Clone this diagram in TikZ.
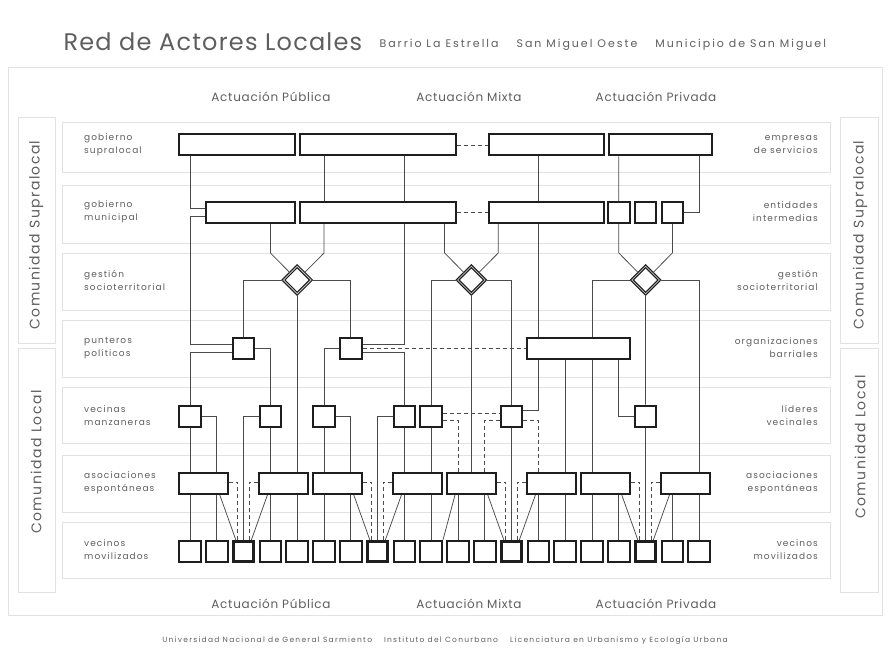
\documentclass[tikz,border=0pt]{standalone}
\usepackage{fontspec}
\setmainfont{Poppins}
\usetikzlibrary{shapes.geometric,positioning,calc}
\definecolor{ink}{HTML}{1E1E1E}
\definecolor{txt}{HTML}{5E5E5E}
\definecolor{faint}{HTML}{E2E2E2}

\begin{document}
\begin{tikzpicture}[x=1pt, y=-1pt,
  act/.style={rectangle, draw=ink, line width=2pt, fill=white, minimum height=21pt, inner sep=0pt},
  cel/.style={act, minimum width=21.5pt},
  rombo/.style={diamond, draw=ink, line width=1.2pt, double=gray!50, double distance=0.8pt, fill=white, minimum width=28pt, minimum height=28pt, inner sep=0pt},
  link/.style={draw=ink!80, line width=0.75pt},
  dlink/.style={link, dash pattern=on 4pt off 3pt},
  lbl/.style={font=\fontsize{9}{13}\selectfont\addfontfeature{LetterSpace=12}, text=txt, inner sep=0pt},
  side/.style={font=\fontsize{14}{14}\selectfont\addfontfeature{LetterSpace=10}, text=txt, rotate=90, inner sep=0pt},
  zona/.style={font=\fontsize{12}{12}\selectfont\addfontfeature{LetterSpace=6}, text=txt, inner sep=0pt},
  band/.style={draw=faint, line width=1pt}
]
  \useasboundingbox (0,0) rectangle (890,663);

  % fondo
  \draw[band] (8,68) rectangle (882,615);
  \draw[band] (18,118) rectangle (55,343);
  \draw[band] (18,348) rectangle (55,592);
  \draw[band] (840,118) rectangle (878,343);
  \draw[band] (840,348) rectangle (878,592);
  \foreach \ya/\yb in {123/172,185/243,253/310,320/377,387/443,455/512,522/578}
    \draw[band] (62,\ya) rectangle (830,\yb);

  % titulos
  \node[anchor=west, font=\fontsize{24}{24}\selectfont\addfontfeature{LetterSpace=5}, text=txt] (titulo) at (60,42) {Red de Actores Locales};
  \node[anchor=west, font=\fontsize{11}{11}\selectfont\addfontfeature{LetterSpace=18}, text=txt] (lugar) at (376,45)
    {Barrio La Estrella\hspace{18pt}San Miguel Oeste\hspace{18pt}Municipio de San Miguel};
  \node[zona] (pub1) at (271,97) {Actuación Pública};
  \node[zona] (mix1) at (469,97) {Actuación Mixta};
  \node[zona] (pri1) at (656,97) {Actuación Privada};
  \node[zona] (pub2) at (271,604) {Actuación Pública};
  \node[zona] (mix2) at (469,604) {Actuación Mixta};
  \node[zona] (pri2) at (656,604) {Actuación Privada};
  \node[font=\fontsize{7.5}{7.5}\selectfont\addfontfeature{LetterSpace=17}, text=txt] (pie) at (445,641)
    {Universidad Nacional de General Sarmiento\hspace{12pt}Instituto del Conurbano\hspace{12pt}Licenciatura en Urbanismo y Ecología Urbana};

  \node[side] (sup1) at (36,235) {Comunidad\hspace{6pt}Supralocal};
  \node[side] (loc1) at (36,462) {Comunidad\hspace{6pt}Local};
  \node[side] (sup2) at (860,235) {Comunidad\hspace{6pt}Supralocal};
  \node[side] (loc2) at (860,447) {Comunidad\hspace{6pt}Local};

  % etiquetas de fila
  \node[lbl, anchor=west, align=left] (l1) at (84,145) {gobierno\\supralocal};
  \node[lbl, anchor=west, align=left] (l2) at (84,212) {gobierno\\municipal};
  \node[lbl, anchor=west, align=left] (l3) at (84,280) {gestión\\socioterritorial};
  \node[lbl, anchor=west, align=left] (l4) at (84,348) {punteros\\políticos};
  \node[lbl, anchor=west, align=left] (l5) at (84,416) {vecinas\\manzaneras};
  \node[lbl, anchor=west, align=left] (l6) at (84,483) {asociaciones\\espontáneas};
  \node[lbl, anchor=west, align=left] (l7) at (84,550) {vecinos\\movilizados};
  \node[lbl, anchor=east, align=right] (r1) at (818,145) {empresas\\de servicios};
  \node[lbl, anchor=east, align=right] (r2) at (818,212) {entidades\\intermedias};
  \node[lbl, anchor=east, align=right] (r3) at (818,280) {gestión\\socioterritorial};
  \node[lbl, anchor=east, align=right] (r4) at (818,348) {organizaciones\\barriales};
  \node[lbl, anchor=east, align=right] (r5) at (818,416) {líderes\\vecinales};
  \node[lbl, anchor=east, align=right] (r6) at (818,483) {asociaciones\\espontáneas};
  \node[lbl, anchor=east, align=right] (r7) at (818,550) {vecinos\\movilizados};

  % actores
  \node[act, minimum width=116pt] (a1) at (237,145) {};
  \node[act, minimum width=156pt] (a2) at (378,145) {};
  \node[act, minimum width=115pt] (a3) at (546.5,145) {};
  \node[act, minimum width=103pt] (a4) at (660.5,145) {};
  \node[act, minimum width=89pt]  (b1) at (250.5,212.5) {};
  \node[act, minimum width=156pt] (b2) at (378,212.5) {};
  \node[act, minimum width=115pt] (b3) at (546.5,212.5) {};
  \node[cel] (b4a) at (618.8,212.5) {};
  \node[cel] (b4b) at (645.6,212.5) {};
  \node[cel] (b4c) at (672.4,212.5) {};
  \node[rombo] (d1) at (297.2,280) {};
  \node[rombo] (d2) at (471.4,280) {};
  \node[rombo] (d3) at (645.6,280) {};
  \node[cel] (p1) at (243.6,348.5) {};
  \node[cel] (p2) at (350.8,348.5) {};
  \node[act, minimum width=102.4pt] (o) at (578.6,348.5) {};
  \foreach \n/\a in {1/0,2/3,3/5,4/8,5/9,6/12,7/17}
    \node[cel] (v\n) at (190+26.8*\a,416) {};
  \foreach \n/\a in {1/0,2/3,3/5,4/8,5/10,6/13,7/15,8/18}
    \node[act, minimum width=48.8pt] (e\n) at (203.4+26.8*\a,483.5) {};
  \foreach \i in {0,...,19}
    \node[cel] (c\i) at (190+26.8*\i,551.5) {};
  \foreach \i in {2,7,12,17}
    \draw[ink, line width=0.8pt] ([shift={(2.6pt,-2.6pt)}]c\i.north west) rectangle ([shift={(-2.6pt,2.6pt)}]c\i.south east);

  % gobierno supralocal -> municipal
  \draw[link] (a1.south -| c0) |- ([yshift=4pt]b1.west);
  \draw[link] (a2.south -| c5) -- (b2.north -| c5);
  \draw[link] (a2.south -| c8) -- (b2.north -| c8);
  \draw[link] (a3.south -| c13) -- (b3.north -| c13);
  \draw[link] (a4.south -| c16) -- (b4a.north);
  \draw[link] (a4.south -| c19) |- (b4c.east);
  \draw[dlink] (a2.east) -- (a3.west);
  \draw[dlink] (b2.east) -- (b3.west);

  % gestion socioterritorial
  \draw[link] (b1.south -| c3) -- ++(0,29) -- (d1.north west);
  \draw[link] (b2.south -| c5) -- ++(0,29) -- (d1.north east);
  \draw[link] ([xshift=13.4pt]b2.south -| c9) -- ++(0,29) -- (d2.north west);
  \draw[link] ([xshift=13.4pt]b3.south -| c11) -- ++(0,29) -- (d2.north east);
  \draw[link] (b4a.south) -- ++(0,29) -- (d3.north west);
  \draw[link] (b4c.south) -- ++(0,29) -- (d3.north east);
  \draw[link] (d1.west) -| (p1.north);
  \draw[link] (d1.east) -| (p2.north);
  \draw[link] (d1.south) -- (d1.south |- e2.north);
  \draw[link] (d2.west) -| (v5.north);
  \draw[link] (d2.east) -| (v6.north);
  \draw[link] (d2.south) -- (d2.south |- e5.north);
  \draw[link] (d3.west) -| (o.north -| c15);
  \draw[link] (d3.east) -| (e8.north -| c19);
  \draw[link] (d3.south) -- (v7.north);

  % punteros y organizaciones
  \draw[link] ([yshift=-4pt]b1.west) -| ([yshift=4pt]p1.west -| c0) -- ([yshift=4pt]p1.west);
  \draw[link] ([yshift=-4pt]p1.west) -| (v1.north);
  \draw[link] (p1.east) -| (v2.north);
  \draw[link] (b2.south -| c8) |- ([yshift=4pt]p2.east);
  \draw[link] ([yshift=-4pt]p2.east) -| (v4.north);
  \draw[link] (p2.west) -| (v3.north);
  \draw[dlink] (p2.east) -- (o.west);
  \draw[link] (b3.south -| c13) -- (o.north -| c13);
  \draw[link] (o.south -| c13) |- ([yshift=6pt]v6.east);
  \draw[link] (o.south -| c14) -- (e6.north -| c14);
  \draw[link] (o.south -| c15) -- (e7.north -| c15);
  \draw[link] (o.south -| c16) |- (v7.west);

  % vecinas manzaneras y lideres
  \draw[link] (v1.south) -- (e1.north -| v1);
  \draw[link] (v1.east) -| (e1.north -| c1);
  \draw[link] (v2.south) -- (e2.north -| v2);
  \draw[link] (v2.west) -| (c2.north);
  \draw[link] (v3.south) -- (e3.north -| v3);
  \draw[link] (v3.east) -| (e3.north -| c6);
  \draw[link] (v4.south) -- (e4.north -| v4);
  \draw[link] (v4.west) -| (c7.north);
  \draw[link] (v5.south) -- (e4.north -| v5);
  \draw[link] (v6.south) -- (c12.north);
  \draw[link] (v7.south) -- (c17.north);
  \draw[dlink] ([yshift=3pt]v5.east) -- ([yshift=3pt]v6.west);
  \draw[dlink] ([yshift=-4pt]v5.east) -| (e5.north -| c10);
  \draw[dlink] ([yshift=-4pt]v6.west) -| (e5.north -| c11);
  \draw[dlink] ([yshift=-4pt]v6.east) -| (e6.north -| c13);

  % asociaciones -> vecinos movilizados
  \foreach \n/\a/\b in {1/0/1,2/3/4,3/5/6,4/8/9,5/10/11,6/13/14,7/15/16,8/18/19}{
    \draw[link] (e\n.south -| c\a) -- (c\a.north);
    \draw[link] (e\n.south -| c\b) -- (c\b.north);
  }
  \foreach \n/\a/\d in {1/1/2,3/6/7,5/11/12,7/16/17}{
    \draw[link] ([xshift=3pt]e\n.south -| c\a) -- ([xshift=4pt]c\d.north west);
    \draw[dlink] ([yshift=1.5pt]e\n.east) -| ([xshift=-6pt]c\d.north);
  }
  \foreach \n/\a/\d in {2/3/2,4/8/7,6/13/12,8/18/17}{
    \draw[link] ([xshift=-3pt]e\n.south -| c\a) -- ([xshift=-4pt]c\d.north east);
    \draw[dlink] ([yshift=1.5pt]e\n.west) -| ([xshift=6pt]c\d.north);
  }
  \draw[link] ([xshift=-3pt]e5.south -| c10) -- (c9.north east);
\end{tikzpicture}
\end{document}
